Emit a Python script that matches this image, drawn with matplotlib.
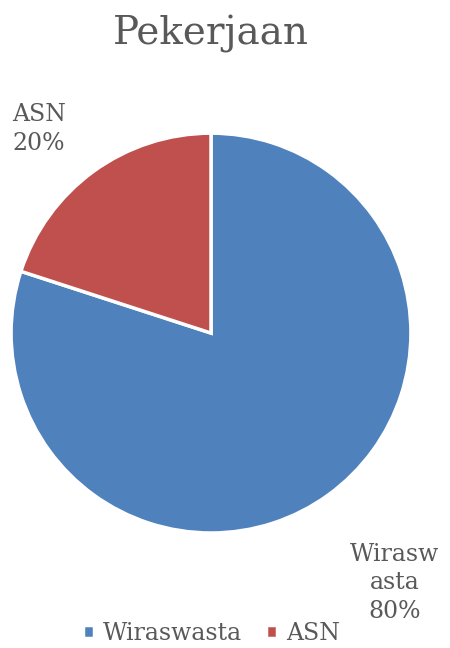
import matplotlib.pyplot as plt

labels = ['Wiraswasta', 'ASN']
shares = [80, 20]
colors = ['#4F81BD', '#C0504D']
text_gray = '#595959'

plt.rcParams['font.family'] = ['DejaVu Serif']

fig = plt.figure(figsize=(4.5, 6.48), dpi=100)
ax = fig.add_axes([0.0244, 0.1775, 0.889, 0.617])

wedges, _ = ax.pie(shares, colors=colors, startangle=90, counterclock=False,
                   wedgeprops=dict(edgecolor='white', linewidth=2.5))
ax.set_xlim(-1, 1)
ax.set_ylim(-1, 1)
ax.set_aspect('equal')

# data labels placed outside the pie like the Excel original
ax.text(-0.86, 1.02, 'ASN\n20%', ha='center', va='center', fontsize=17,
        color=text_gray, linespacing=1.35)
ax.text(0.92, -1.25, 'Wirasw\nasta\n80%', ha='center', va='center', fontsize=17,
        color=text_gray, linespacing=1.3)

fig.text(0.469, 0.948, 'Pekerjaan', ha='center', va='center', fontsize=28,
         color=text_gray)

fig.legend(wedges, labels, loc='center', bbox_to_anchor=(0.47, 0.022),
           ncol=2, frameon=False, fontsize=17, handlelength=0.45, handleheight=0.45,
           handletextpad=0.4, columnspacing=1.0, labelcolor=text_gray)

fig.savefig('out.png', dpi=100)
